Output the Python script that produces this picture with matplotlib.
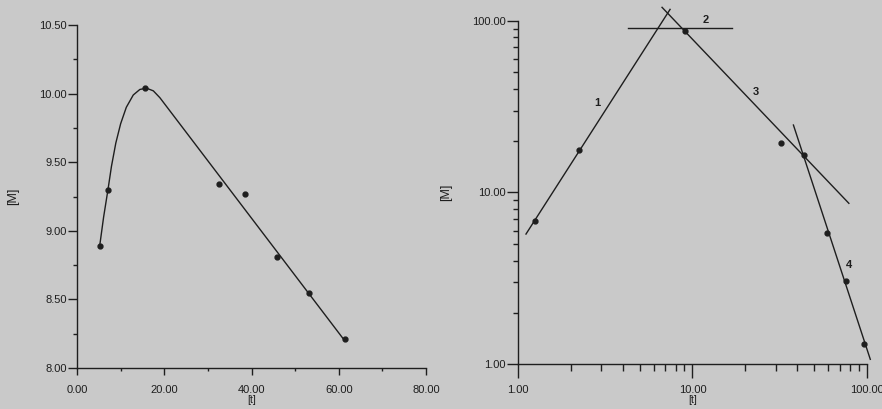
import matplotlib
matplotlib.use("Agg")
import matplotlib.pyplot as plt
from matplotlib.ticker import MultipleLocator, FixedLocator, FormatStrFormatter, NullFormatter

plt.rcParams['font.family'] = ['Liberation Sans', 'DejaVu Sans']

BG = '#c9c9c9'
INK = '#1e1e1e'

# left panel: linear scale
lin_t = [5.2, 7.1, 15.5, 32.6, 38.4, 45.9, 53.2, 61.5]
lin_m = [8.89, 9.30, 10.04, 9.34, 9.27, 8.81, 8.55, 8.21]
# fitted curve
fit_t = [5.2, 6.1, 7.1, 7.9, 8.9, 10.0, 11.3, 12.9, 14.4, 15.9, 17.5, 19.0, 61.1]
fit_m = [8.89, 9.10, 9.30, 9.47, 9.64, 9.78, 9.90, 9.99, 10.03, 10.04, 10.02, 9.97, 8.21]

# right panel: log-log
log_t = [1.24, 2.22, 9.11, 32.3, 43.6, 59.4, 75.7, 96.5]
log_m = [6.83, 17.7, 87.5, 19.5, 16.45, 5.79, 3.05, 1.31]
seg_t = [[1.107, 7.44], [4.29, 16.8], [6.69, 79.1], [38.0, 105.0]]
seg_m = [[5.73, 116.4], [90.2, 90.2], [119.6, 8.65], [24.7, 1.069]]
seg_names = ['1', '2', '3', '4']
name_t = [2.86, 12.0, 23.2, 78.8]
name_m = [33.0, 101.0, 38.6, 3.79]

fig = plt.figure(figsize=(8.82, 4.09), dpi=100, facecolor=BG)

def style(ax):
    ax.set_facecolor('none')
    for s in ['top', 'right']:
        ax.spines[s].set_visible(False)
    for s in ['left', 'bottom']:
        ax.spines[s].set_color(INK)
        ax.spines[s].set_linewidth(1.0)
    ax.tick_params(which='both', direction='out', colors=INK, labelsize=8)

# left
ax1 = fig.add_axes([77 / 882, 41 / 409, 349 / 882, 343 / 409])
style(ax1)
ax1.plot(fit_t, fit_m, color=INK, lw=1.0, clip_on=False)
ax1.plot(lin_t, lin_m, 'o', color=INK, ms=3.5, clip_on=False)
ax1.set_xlim(0, 80)
ax1.set_ylim(8, 10.5)
ax1.xaxis.set_major_locator(MultipleLocator(20))
ax1.xaxis.set_minor_locator(MultipleLocator(10))
ax1.yaxis.set_major_locator(MultipleLocator(0.5))
ax1.yaxis.set_minor_locator(MultipleLocator(0.25))
ax1.xaxis.set_major_formatter(FormatStrFormatter('%.2f'))
ax1.yaxis.set_major_formatter(FormatStrFormatter('%.2f'))
ax1.tick_params(axis='x', which='major', length=5, width=1, pad=7)
ax1.tick_params(axis='x', which='minor', length=2.5, width=1)
ax1.tick_params(axis='y', which='major', length=6.5, width=1, pad=1)
ax1.tick_params(axis='y', which='minor', length=3, width=1)
ax1.set_xlabel('[t]', fontsize=7.5, color=INK, labelpad=0)
ax1.set_ylabel('[M]', fontsize=9, color=INK, labelpad=14)

# right
ax2 = fig.add_axes([518.3 / 882, 44.7 / 409, 348.3 / 882, 343.6 / 409])
style(ax2)
ax2.set_xscale('log')
ax2.set_yscale('log')
for xs, ys in zip(seg_t, seg_m):
    ax2.plot(xs, ys, color=INK, lw=1.0, clip_on=False)
ax2.plot(log_t, log_m, 'o', color=INK, ms=3.5, clip_on=False)
for n, x, y in zip(seg_names, name_t, name_m):
    ax2.text(x, y, n, fontsize=8, color=INK, ha='center', va='center', fontweight='bold')
ax2.set_xlim(1, 100)
ax2.set_ylim(1, 100)
ax2.xaxis.set_major_locator(FixedLocator([1, 10, 100]))
ax2.yaxis.set_major_locator(FixedLocator([1, 10, 100]))
minors = [k * d for d in (1, 10) for k in range(2, 10)]
ax2.xaxis.set_minor_locator(FixedLocator(minors))
ax2.yaxis.set_minor_locator(FixedLocator(minors))
ax2.xaxis.set_major_formatter(FormatStrFormatter('%.2f'))
ax2.yaxis.set_major_formatter(FormatStrFormatter('%.2f'))
ax2.xaxis.set_minor_formatter(NullFormatter())
ax2.yaxis.set_minor_formatter(NullFormatter())
ax2.tick_params(axis='x', which='major', length=10, width=1, pad=5)
ax2.tick_params(axis='x', which='minor', length=5, width=1)
ax2.tick_params(axis='y', which='major', length=8, width=1, pad=1)
ax2.tick_params(axis='y', which='minor', length=3.6, width=1)
ax2.set_xlabel('[t]', fontsize=7.5, color=INK, labelpad=0)
ax2.set_ylabel('[M]', fontsize=9, color=INK, labelpad=14)

fig.savefig('out.png', dpi=100, facecolor=BG)
